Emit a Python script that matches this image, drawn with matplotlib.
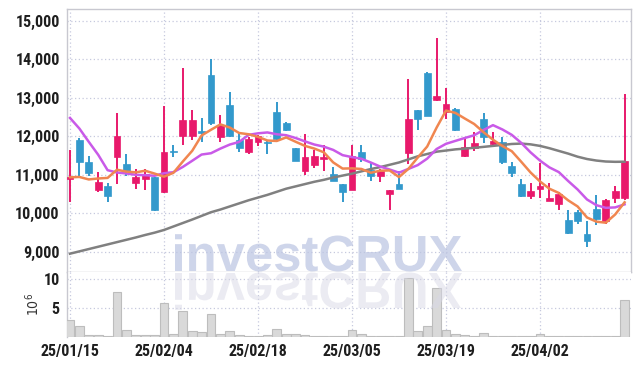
import numpy as np
import matplotlib
matplotlib.use('Agg')
import matplotlib.pyplot as plt
import matplotlib.ticker as tkr
import matplotlib.transforms as mtrans
from matplotlib.textpath import TextPath
from matplotlib.patches import PathPatch
from matplotlib.font_manager import FontProperties

dates = ['25/01/15', '25/01/16', '25/01/17', '25/01/20', '25/01/21', '25/01/22', '25/01/23', '25/01/24', '25/01/31',
         '25/02/03', '25/02/04', '25/02/05', '25/02/06', '25/02/07', '25/02/10', '25/02/11', '25/02/12', '25/02/13',
         '25/02/14', '25/02/17', '25/02/18', '25/02/19', '25/02/20', '25/02/21', '25/02/24', '25/02/25', '25/02/26',
         '25/02/27', '25/02/28', '25/03/04', '25/03/05', '25/03/06', '25/03/07', '25/03/10', '25/03/11', '25/03/12',
         '25/03/13', '25/03/14', '25/03/17', '25/03/18', '25/03/19', '25/03/20', '25/03/21', '25/03/24', '25/03/25',
         '25/03/26', '25/03/27', '25/03/28', '25/03/31', '25/04/01', '25/04/02', '25/04/03', '25/04/04', '25/04/07',
         '25/04/08', '25/04/09', '25/04/10', '25/04/11', '25/04/14', '25/04/15']

opens = [10890, 11900, 11330, 10610, 10710, 11450, 11270, 10800, 10900, 10940,
         10560, 11610, 12000, 12000, 12130, 13600, 11980, 12800, 11910, 11590,
         11850, 11850, 12620, 12340, 11690, 11100, 11260, 11410, 11020, 10760,
         10600, 11600, 11120, 10970, 10510, 10770, 11570, 12670, 13650, 12930,
         12630, 12710, 11490, 11700, 12460, 11800, 11860, 11230, 10760, 10460,
         10640, 10320, 10250, 9830, 10030, 9470, 10110, 9810, 10410, 10400]
highs = [11650, 11960, 11500, 11080, 10780, 12610, 11550, 11140, 11140, 10950,
         12780, 11770, 13780, 12690, 12480, 14000, 12550, 13150, 12090, 11970,
         12030, 11880, 12880, 12360, 11700, 12050, 11650, 11780, 11200, 10770,
         11780, 11780, 11310, 11160, 10610, 11100, 13490, 12690, 13660, 14550,
         13250, 12720, 11980, 12110, 12610, 12100, 11980, 11340, 10900, 10790,
         11310, 10790, 10560, 10090, 10100, 9790, 10470, 10370, 10720, 13100]
lows = [10300, 10970, 10970, 10550, 10300, 10750, 10970, 10630, 10600, 10070,
        10520, 11470, 11780, 11910, 11840, 12290, 11840, 11990, 11600, 11540,
        11750, 11530, 11910, 12140, 11350, 11000, 11170, 11090, 10840, 10290,
        10600, 11340, 10840, 10820, 10100, 10620, 11280, 12170, 12520, 12910,
        12460, 12140, 11470, 11610, 11820, 11720, 11290, 10950, 10430, 10380,
        10410, 10310, 10090, 9460, 9720, 9120, 9700, 9730, 10260, 10340]
closes = [10940, 11340, 11050, 10810, 10460, 12000, 11100, 10950, 11020, 10090,
          11600, 11600, 12410, 12410, 12080, 12340, 12300, 12000, 11700, 11920,
          12000, 11830, 11940, 12160, 11360, 11460, 11480, 11460, 10850, 10560,
          11490, 11400, 10970, 11110, 10600, 10630, 12460, 12450, 12530, 13050,
          12840, 12160, 11720, 11820, 11980, 11870, 11340, 11050, 10460, 10580,
          10710, 10400, 10500, 9500, 9790, 9280, 9860, 10360, 10570, 11370]

ma5 = [10935, 10945, 10880, 10905, 10920, 11132, 11084, 11064, 11106, 11032,
       10952, 11052, 11344, 11622, 12020, 12168, 12308, 12226, 12084, 12052,
       11984, 11890, 11878, 11970, 11858, 11750, 11680, 11584, 11322, 11162,
       11168, 11152, 11054, 11106, 11114, 10942, 11154, 11450, 11734, 12224,
       12666, 12606, 12460, 12318, 12104, 11910, 11746, 11612, 11340, 11060,
       10828, 10640, 10530, 10338, 10180, 9894, 9786, 9758, 9972, 10288]
ma10 = [12475, 12200, 11855, 11520, 11120, 11060, 11035, 11000, 10990, 10976,
        11042, 11068, 11204, 11364, 11526, 11560, 11680, 11785, 11853, 12036,
        12076, 12099, 12052, 12027, 11955, 11867, 11785, 11731, 11646, 11510,
        11459, 11416, 11319, 11214, 11138, 11055, 11153, 11252, 11420, 11669,
        11804, 11880, 11955, 12026, 12164, 12288, 12176, 12036, 11829, 11582,
        11369, 11193, 11071, 10839, 10620, 10361, 10213, 10144, 10155, 10234]
ma_long = [8955, 9015, 9075, 9135, 9195, 9255, 9315, 9375, 9440, 9500,
           9570, 9660, 9750, 9840, 9935, 10030, 10100, 10180, 10260, 10340,
           10410, 10480, 10560, 10640, 10700, 10760, 10820, 10870, 10930, 10980,
           11030, 11090, 11150, 11200, 11260, 11320, 11400, 11480, 11540, 11600,
           11630, 11660, 11680, 11700, 11725, 11750, 11775, 11800, 11810, 11790,
           11750, 11690, 11620, 11550, 11470, 11410, 11370, 11345, 11337, 11340]

# volume in millions of shares
volume = [2.9, 1.95, 0.35, 0.35, 0.2, 7.8, 1.2, 0.35, 0.35, 0.35,
          5.9, 0.55, 4.5, 1.0, 0.9, 4.0, 0.55, 1.0, 0.4, 0.2,
          0.2, 0.4, 1.4, 0.45, 0.55, 0.35, 0.2, 0.2, 0.2, 0.2,
          1.25, 0.45, 0.2, 0.15, 0.2, 0.2, 10.2, 1.0, 1.95, 8.6,
          1.2, 0.57, 0.4, 0.2, 0.7, 0.2, 0.2, 0.2, 0.2, 0.2,
          0.5, 0.2, 0.2, 0.2, 0.2, 0.2, 0.2, 0.2, 0.2, 6.4]

UP = '#e8196b'
DOWN = '#3399cc'
GRID = '#c6c9de'
FRAME = '#c8c8d0'

plt.rcParams['font.family'] = ['Roboto Condensed', 'Roboto', 'DejaVu Sans']
plt.rcParams['font.stretch'] = 'condensed'

W, H = 639, 366
fig = plt.figure(figsize=(W / 100, H / 100), dpi=100)
ax = fig.add_axes([66.7 / W, 1 - 272 / H, (630.7 - 66.7) / W, 263 / H])
axv = fig.add_axes([66.7 / W, 1 - 337 / H, (630.7 - 66.7) / W, 65 / H], sharex=ax)

x = np.arange(len(dates))
o = np.array(opens)
c = np.array(closes)
up = c >= o
cols = np.where(up, UP, DOWN)
body_lo = np.minimum(o, c)
body_h = np.maximum(np.abs(c - o), 25)

ax.vlines(x, lows, highs, colors=cols, lw=1.4, zorder=3)
ax.bar(x, body_h, bottom=body_lo, width=0.74, color=cols, edgecolor=cols, lw=0.5, zorder=4)

ax.plot(x, ma_long, color='#808080', lw=1.8, zorder=5)
ax.plot(x, ma10, color='#c95ae8', lw=1.8, zorder=5)
ax.plot(x, ma5, color='#f08650', lw=1.8, zorder=5)

axv.bar(x, volume, width=0.92, color='#d9d9d9', edgecolor='#bdbdbd', lw=0.8, zorder=3)

ax.set_xlim(-0.35, 59.65)
ax.set_ylim(8480, 15300)
axv.set_ylim(0, 11.3)

ax.set_yticks(np.arange(9000, 15001, 1000))
ax.yaxis.set_major_formatter(tkr.FuncFormatter(lambda v, pos: '{:,.0f}'.format(v)))
axv.set_yticks([5, 10])
axv.set_xticks(x[::10])
axv.set_xticklabels(dates[::10])
plt.setp(ax.get_xticklabels(), visible=False)

for a in (ax, axv):
    a.grid(True, linestyle=(0, (1, 2)), color=GRID, lw=0.9, zorder=0)
    a.set_axisbelow(True)
    a.tick_params(length=0, labelsize=11.5, labelcolor='#1e1e1e', pad=5)
    for lbl in a.get_xticklabels() + a.get_yticklabels():
        lbl.set_fontweight('bold')
    for s in a.spines.values():
        s.set_color(FRAME)
        s.set_linewidth(1.0)
axv.spines['right'].set_visible(False)
axv.spines['bottom'].set_visible(False)
axv.spines['top'].set_visible(False)

axv.set_ylabel('10$^6$', family='DejaVu Sans', fontsize=10, color='#333333', labelpad=1)

# watermark and its mirror image
fp = FontProperties(family='Liberation Sans', weight='bold')
tp = TextPath((0, 0), 'investCRUX', size=100, prop=fp)
bb = tp.get_extents()
k = 287 / bb.width
t_main = mtrans.Affine2D().translate(-bb.x0, 0).scale(k).translate(175, H - 271)
t_flip = mtrans.Affine2D().translate(-bb.x0, 0).scale(k, -k).translate(175, H - 273)
fig.add_artist(PathPatch(tp, transform=t_main, fc='#bcc5e2', ec='none', alpha=0.72, zorder=6))
fig.add_artist(PathPatch(tp, transform=t_flip, fc='#d8d8e6', ec='none', alpha=0.5, zorder=6))

fig.savefig('out.png', dpi=100)
